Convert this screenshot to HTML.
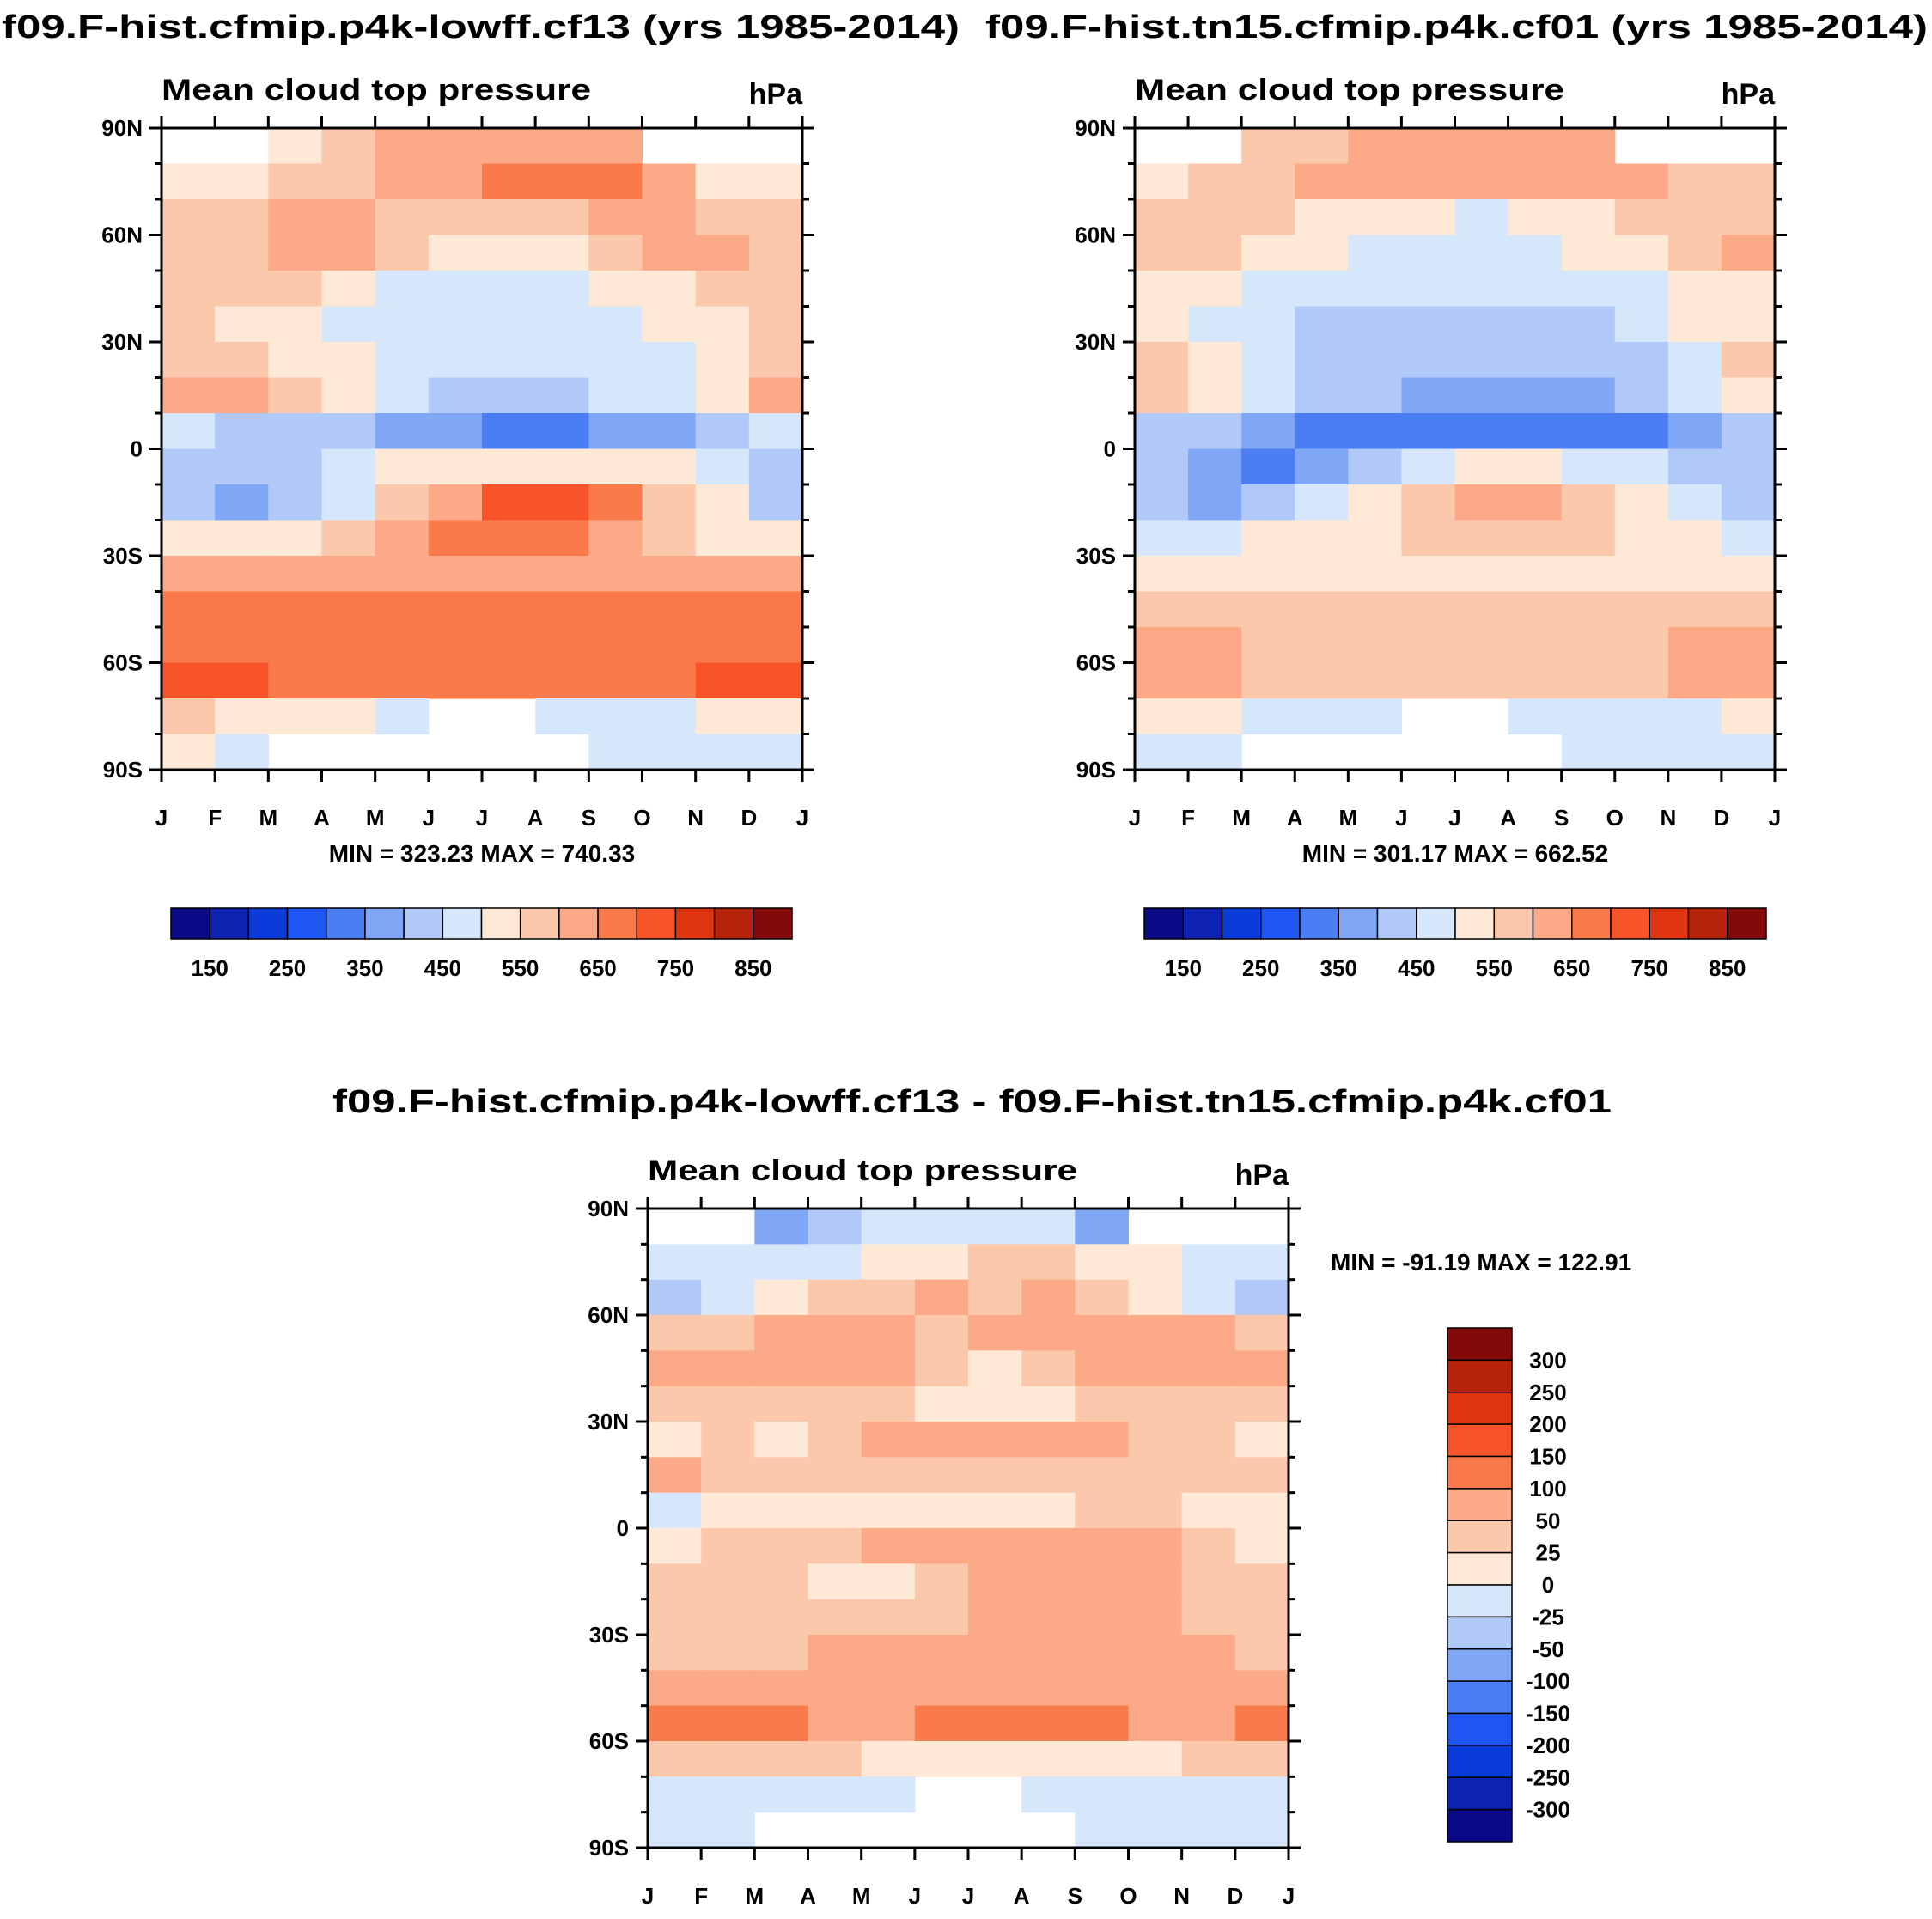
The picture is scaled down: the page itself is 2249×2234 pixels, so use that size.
<!DOCTYPE html>
<html><head><meta charset="utf-8"><style>
html,body{margin:0;padding:0;background:#fff;}
svg text{font-family:"Liberation Sans",Arial,sans-serif;font-weight:bold;fill:#000;}
</style></head><body>
<svg id="c" width="2249" height="2229" viewBox="0 0 2249 2229" xmlns="http://www.w3.org/2000/svg"></svg>
<script>
const months = ["J","F","M","A","M","J","J","A","S","O","N","D","J"];
const latLabels = ["90N","60N","30N","0","30S","60S","90S"];
const absLevels = [150,200,250,300,350,400,450,500,550,600,650,700,750,800,850];
const diffLevels = [-300,-250,-200,-150,-100,-50,-25,0,25,50,100,150,200,250,300];
const palette = ["#0a0a86","#0b22b2","#0a3bd8","#1f55f2","#4a7ef2","#80a6f6","#b1c9f9","#d7e7fb","#fde9d6","#fcc8ab","#fba986","#fa7a4c","#f8542a","#df3511","#b6230a","#840a0a"];
const absLabels = ["150","250","350","450","550","650","750","850"];
const diffLabels = ["300","250","200","150","100","50","25","0","-25","-50","-100","-150","-200","-250","-300"];
const N = null;
const panel1 = [
[N,N,520,560,600,640,640,640,620,N,N,N],
[540,540,560,580,610,640,650,680,660,620,540,540],
[560,560,600,620,580,560,560,580,610,620,580,560],
[580,580,620,600,560,530,520,530,560,600,600,580],
[560,560,560,520,480,470,470,480,500,540,560,560],
[560,540,520,480,460,460,460,470,480,500,530,560],
[590,580,540,500,470,460,460,460,470,480,520,580],
[610,600,560,500,460,440,440,440,450,470,520,600],
[450,440,420,400,380,370,340,340,360,390,420,450],
[420,400,420,460,500,520,540,540,530,500,460,430],
[430,380,420,470,560,640,720,720,690,580,500,430],
[520,500,520,560,600,660,680,660,620,580,540,520],
[620,600,600,600,620,620,620,620,620,620,620,620],
[660,690,690,660,660,660,660,660,660,660,660,660],
[690,690,690,690,690,690,690,690,690,690,690,690],
[720,710,690,680,660,650,650,650,660,680,710,720],
[560,540,520,500,470,N,N,470,470,470,500,540],
[500,470,N,N,N,N,N,N,460,460,460,460]];
const panel2 = [
[N,N,560,580,600,620,620,620,640,N,N,N],
[540,560,580,600,620,640,640,640,640,620,560,560],
[560,560,560,540,520,500,490,500,520,560,580,580],
[580,560,540,500,480,470,470,480,500,540,580,600],
[520,500,480,470,460,460,460,460,470,490,520,540],
[520,480,450,420,420,430,430,430,440,460,500,540],
[560,520,480,440,420,410,410,410,420,440,480,560],
[560,540,480,420,400,390,380,380,390,420,460,540],
[420,400,360,340,320,310,310,310,320,340,380,420],
[420,380,340,360,420,460,500,500,480,460,440,430],
[400,380,420,480,540,580,600,600,580,540,480,420],
[460,480,500,520,540,560,560,560,560,540,500,460],
[540,540,540,540,540,540,540,540,540,540,540,540],
[580,580,580,570,560,560,560,560,560,570,580,580],
[600,600,590,580,580,580,580,580,580,590,600,600],
[620,600,580,560,560,560,560,560,560,580,620,620],
[520,500,480,470,460,N,N,470,460,460,480,500],
[480,470,N,N,N,N,N,N,460,460,460,460]];
const panel3 = [
[N,N,-60,-40,-20,-20,-10,-20,-60,N,N,N],
[-10,-20,-10,-10,10,20,30,30,20,10,-20,-20],
[-30,-10,10,30,40,50,40,50,40,20,-10,-30],
[40,40,60,60,60,30,60,60,60,60,50,40],
[60,60,60,60,60,40,20,40,60,60,60,60],
[30,40,40,40,40,10,10,10,40,40,40,40],
[20,30,20,40,50,50,60,60,50,40,30,20],
[60,40,30,30,30,30,30,30,30,30,30,40],
[-10,0,10,10,10,20,20,20,30,30,20,10],
[20,40,30,40,50,60,60,60,60,50,30,20],
[40,40,30,20,20,30,60,60,60,60,40,40],
[40,30,30,40,40,40,50,60,60,50,40,40],
[40,40,40,60,60,60,60,60,60,60,50,40],
[60,60,60,60,60,60,60,60,60,60,60,60],
[110,110,110,90,80,100,110,110,100,80,80,110],
[30,40,40,30,20,20,20,20,20,20,30,30],
[-10,-20,-10,-10,-10,N,N,-10,-10,-10,-20,-20],
[-10,-10,N,N,N,N,N,N,-10,-10,-10,-10]];

const svg=document.getElementById('c');
const NS="http://www.w3.org/2000/svg";
function mk(tag,attrs,parent){const e=document.createElementNS(NS,tag);for(const k in attrs)e.setAttribute(k,attrs[k]);(parent||svg).appendChild(e);return e;}
function txt(s,x,y,size,anchor,parent,len){const t=mk('text',{x:x,y:y,'font-size':size,'text-anchor':anchor||'start'},parent);if(len){t.setAttribute('textLength',len);t.setAttribute('lengthAdjust','spacingAndGlyphs');}t.textContent=s;return t;}
function colorFor(v,levels){let i=0;while(i<levels.length&&v>=levels[i])i++;return palette[i];}

function drawPanel(name,data,levels,x0,y0,w,h){
  const g=mk('g',{});
  
  
  const xs=v=>x0+v*w/12, ys=r=>y0+r*h/data.length;
  data.forEach((row,r)=>row.forEach((v,c)=>{
    if(v===null)return;
    const rc=mk('rect',{x:xs(c),y:ys(r),width:w/12+0.6,height:h/data.length+0.6,fill:colorFor(v,levels)},g);
    
    
  }));
  const fr=mk('rect',{x:x0,y:y0,width:w,height:h,fill:'none',stroke:'#000','stroke-width':3},g);
  
  
  for(let i=0;i<=18;i++){
    const y=y0+i*h/18, L=(i%3===0)?14:8;
    mk('line',{x1:x0-L,x2:x0,y1:y,y2:y,stroke:'#000','stroke-width':3},g);
    mk('line',{x1:x0+w,x2:x0+w+L,y1:y,y2:y,stroke:'#000','stroke-width':3},g);
  }
  latLabels.forEach((s,i)=>{const t=txt(s,x0-22,y0+i*h/6+9,26,'end',g);});
  months.forEach((s,i)=>{
    const x=x0+i*w/12;
    mk('line',{x1:x,x2:x,y1:y0+h,y2:y0+h+14,stroke:'#000','stroke-width':3},g);
    mk('line',{x1:x,x2:x,y1:y0-14,y2:y0,stroke:'#000','stroke-width':3},g);
    const t=txt(s,x,y0+h+65,26,'middle',g);
    
    
  });
  const st=txt('Mean cloud top pressure',x0,y0-33,34,'start',g,500);
  
  
  const u=txt('hPa',x0+w,y0-28,34,'end',g);
  
  
}
function hbar(name,x0,y0,w,h){
  const g=mk('g',{});
  
  
  const bw=w/16;
  palette.forEach((c,i)=>{mk('rect',{x:x0+i*bw,y:y0,width:bw,height:h,fill:c,stroke:'#000','stroke-width':1.5},g);});
  absLabels.forEach((s,i)=>{const t=txt(s,x0+(2*i+1)*bw,y0+h+43,26,'middle',g);});
}
function vbar(name,x0,y0,w,h){
  const g=mk('g',{});
  
  
  const bh=h/16;
  palette.slice().reverse().forEach((c,i)=>{mk('rect',{x:x0,y:y0+i*bh,width:w,height:bh,fill:c,stroke:'#000','stroke-width':1.5},g);});
  diffLabels.forEach((s,i)=>{const t=txt(s,x0+w+42,y0+(i+1)*bh+9,26,'middle',g);});
}
let t;
t=txt('f09.F-hist.cfmip.p4k-lowff.cf13 (yrs 1985-2014)',2,44,38,'start',null,1115);

t=txt('f09.F-hist.tn15.cfmip.p4k.cf01 (yrs 1985-2014)',1147,44,38,'start',null,1097);

t=txt('f09.F-hist.cfmip.p4k-lowff.cf13 - f09.F-hist.tn15.cfmip.p4k.cf01',387,1295,38,'start',null,1489);


drawPanel('panel-left',panel1,absLevels,188,149,746,747);
drawPanel('panel-right',panel2,absLevels,1321,149,745,747);
drawPanel('panel-diff',panel3,diffLevels,754,1407,746,744);

t=txt('MIN = 323.23 MAX = 740.33',561,1003,28,'middle');

t=txt('MIN = 301.17 MAX = 662.52',1694,1003,28,'middle');

t=txt('MIN = -91.19 MAX = 122.91',1549,1479,28,'start');


hbar('colorbar-left',199,1057,723,36);
hbar('colorbar-right',1332,1057,724,36);
vbar('colorbar-diff',1685,1546,75,598);
</script>
</body></html>
